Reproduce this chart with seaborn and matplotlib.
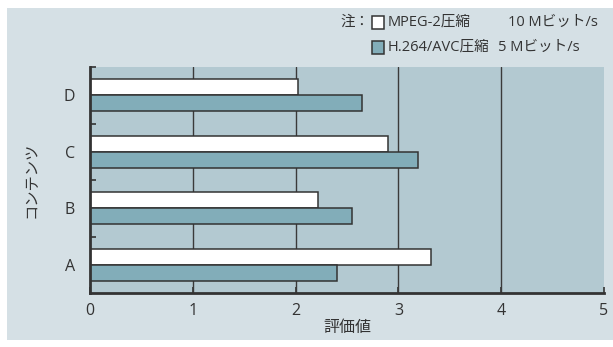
import matplotlib
matplotlib.use("Agg")
import matplotlib.pyplot as plt
from matplotlib.patches import Rectangle
from matplotlib.ticker import FixedLocator
import pandas as pd
import seaborn as sns

# Evaluation scores per content item and codec
contents = ["D", "C", "B", "A"]
codecs = ["MPEG-2圧縮", "H.264/AVC圧縮"]
rates = ["10 Mビット/s", "5 Mビット/s"]
mpeg2_scores = [2.02, 2.90, 2.22, 3.32]
h264_scores = [2.65, 3.19, 2.55, 2.40]
x_ticks = [0, 1, 2, 3, 4, 5]

codec_colors = ["#ffffff", "#82adb9"]
panel_color = "#d5e0e5"
plot_color = "#b3c9d1"
ink = "#333333"

df = pd.DataFrame({
    "コンテンツ": contents * 2,
    "codec": [codecs[0]] * len(contents) + [codecs[1]] * len(contents),
    "評価値": mpeg2_scores + h264_scores,
})

sns.set_theme(style="white")
plt.rcParams["font.family"] = ["Open Sans", "Noto Sans CJK JP", "DejaVu Sans"]

fig = plt.figure(figsize=(6.13, 3.47), dpi=100)
fig.patch.set_facecolor("white")
fig.patches.append(Rectangle((7 / 613, 7 / 347), 1 - 7 / 613, 1 - 15 / 347,
                             transform=fig.transFigure, facecolor=panel_color,
                             edgecolor="none", zorder=-10))

ax = fig.add_axes([90 / 613, 1 - 293 / 347, 514 / 613, 226 / 347])
ax.set_facecolor(plot_color)

sns.barplot(data=df, x="評価値", y="コンテンツ", hue="codec", order=contents,
            hue_order=codecs, palette=codec_colors, orient="h", width=0.57,
            edgecolor=ink, linewidth=1.1, saturation=1, legend=False, ax=ax,
            zorder=3)

ax.set_xlim(0, 5)
ax.set_ylim(3.5, -0.5)
ax.set_xticks(x_ticks)
ax.set_xticklabels([str(t) for t in x_ticks], fontsize=11.5, color=ink)
ax.set_yticklabels(contents, fontsize=11.5, color=ink)
ax.tick_params(axis="y", which="major", length=0, pad=11)
ax.yaxis.set_minor_locator(FixedLocator([-0.5, 0.5, 1.5, 2.5]))
ax.tick_params(axis="y", which="minor", direction="in", length=4, width=1.2,
               color=ink, left=True)
ax.tick_params(axis="x", which="major", direction="in", length=4, width=1.2,
               color=ink, bottom=True, pad=7)

for v in x_ticks[1:-1]:
    ax.axvline(v, color="#3a3a3a", linewidth=1.0, zorder=1)

for side in ["top", "right"]:
    ax.spines[side].set_visible(False)
for side in ["left", "bottom"]:
    ax.spines[side].set_color(ink)
    ax.spines[side].set_linewidth(2)
    ax.spines[side].set_zorder(5)

ax.set_xlabel("評価値", fontsize=11.5, color=ink, labelpad=1)
ax.set_ylabel("コンテンツ", fontsize=11, color=ink, labelpad=17)

# Legend block above the plot area
fig.text(370 / 613, 1 - 22 / 347, "注：", fontsize=10.5, color=ink,
         ha="right", va="center")
rows_y = [22, 47]
for i, (codec, rate) in enumerate(zip(codecs, rates)):
    yc = 1 - rows_y[i] / 347
    fig.patches.append(Rectangle((372 / 613, yc - 6.5 / 347), 12 / 613, 13 / 347,
                                 transform=fig.transFigure,
                                 facecolor=codec_colors[i], edgecolor=ink,
                                 linewidth=1.1, zorder=2))
    fig.text(388 / 613, yc, codec, fontsize=10.5, color=ink, ha="left", va="center")
    fig.text((508 if i == 0 else 498) / 613, yc, rate, fontsize=10.5, color=ink,
             ha="left", va="center")

fig.savefig("out.png", dpi=100, facecolor=fig.get_facecolor())
